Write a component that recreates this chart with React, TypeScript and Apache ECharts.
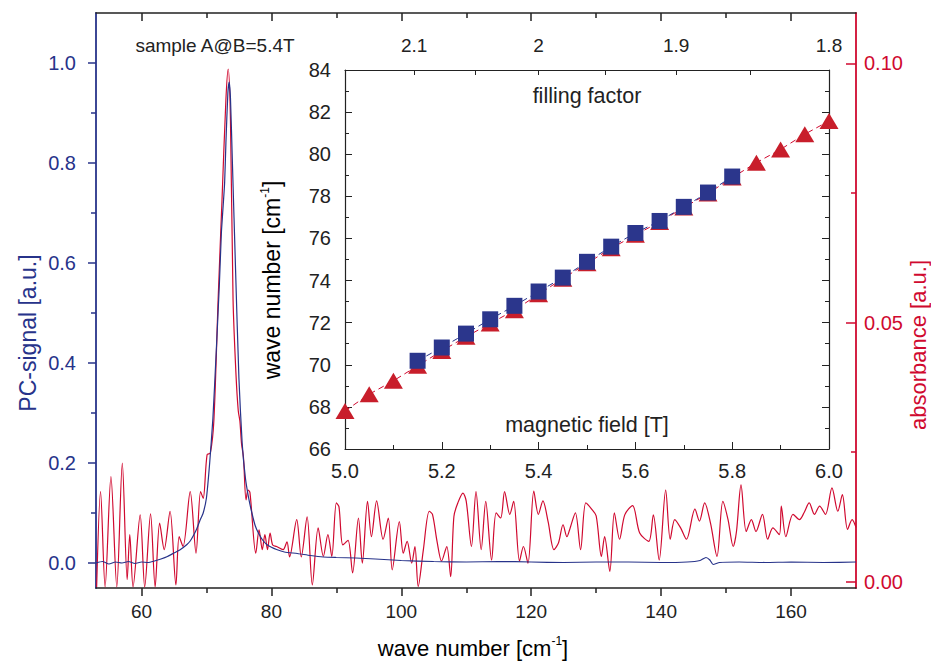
import React, { useEffect, useRef } from "react";
import * as echarts from "echarts";

// ---------- main spectrum data ----------
const absWave = [53.1,53.7,54.4,55.3,56.2,57.05,57.8,58.2,58.7,59.8,60.5,61.4,62.1,62.8,63.5,64.4,65.3,65.8,66.4,67.5,68.4,69.1,69.5,70.1,70.6,71.15,71.8,72.4,73.0,73.35,73.7,74.1,74.55,74.9,75.15,75.4,75.7,76.1,76.4,76.7,77.6,78.1,78.6,79.0,79.4,79.8,80.2,80.8,81.8,82.4,82.8,83.9,84.6,85.5,86.3,87.2,88.0,88.7,89.3,90.0,90.4,91.0,91.8,92.5,93.4,94.0,94.8,95.4,96.2,97.2,98.0,98.6,99.7,100.3,100.9,101.6,102.1,102.6,103.4,104.3,104.8,105.5,106.2,107.0,107.6,108.1,108.7,109.5,110.0,110.8,111.5,112.3,113.0,113.9,114.6,115.3,115.9,116.7,117.3,118.2,118.8,119.5,120.4,121.1,121.8,122.6,123.5,124.2,124.9,125.5,125.9,126.8,127.6,128.4,129.3,130.0,130.8,131.3,132.1,132.8,133.6,134.4,135.6,136.7,138.1,138.8,139.7,140.7,141.4,142.1,143.0,143.9,145.2,145.9,146.7,147.6,148.6,149.5,150.3,151.1,151.6,152.3,153.1,153.9,154.6,155.6,156.4,157.2,158.2,158.5,159.2,160.3,161.3,162.0,162.8,163.6,164.4,165.3,166.3,167.2,167.9,168.7,169.4,170.0];
const absValue = [-0.001,0.0174,-0.001,0.0203,-0.001,0.0229,0.0004,0.0091,-0.001,0.0129,-0.001,0.0131,-0.001,0.0113,0.0062,0.0136,-0.0006,0.0087,0.0068,0.0174,0.0055,0.0174,0.0161,0.0245,0.0248,0.0312,0.0544,0.0737,0.093,0.0989,0.089,0.0544,0.04,0.033,0.031,0.0267,0.024,0.0158,0.0177,0.0172,0.0055,0.01,0.0062,0.0091,0.0062,0.0094,0.0071,0.0068,0.0062,0.0077,0.0048,0.012,0.0048,0.0125,-0.0006,0.0104,0.0049,0.0091,0.0049,0.0152,0.0145,0.0071,0.008,0.0017,0.0123,0.0036,0.0155,0.0087,0.0156,0.0082,0.0123,0.0023,0.0116,0.0055,0.0078,0.0036,0.0068,-0.0009,0.0062,0.0136,0.013,0.0078,0.004,0.0068,0.001,0.0126,0.0152,0.0171,0.0155,0.0068,0.0174,0.0062,0.0155,0.0042,0.0133,0.0123,0.0174,0.013,0.0155,0.004,0.0068,0.0036,0.0175,0.013,0.0156,0.0116,0.0062,0.0075,0.011,0.0087,0.01,0.0133,0.0062,0.0152,0.014,0.0127,0.0049,0.0087,0.002,0.0133,0.0082,0.0129,0.0147,0.0094,0.0078,0.0129,0.0042,0.0177,0.0082,0.012,0.0104,0.0082,0.014,0.0117,0.0152,0.0113,0.0049,0.0155,0.012,0.0068,0.0097,0.0187,0.0097,0.012,0.0097,0.013,0.0082,0.0104,0.0091,0.0146,0.0087,0.013,0.012,0.0133,0.0152,0.013,0.0146,0.013,0.0181,0.0136,0.0168,0.0101,0.012,0.0105];

const pcWave = [53,54,55,56,57,58,59,60,61,62,63,64,65,66,67,67.5,68,68.5,69,69.5,70,70.5,71,71.5,72,72.3,72.5,72.8,73.0,73.3,73.5,73.7,74.0,74.5,75.0,75.5,76.0,76.5,77.0,77.5,78.0,78.7,79.5,80.8,82,84,86,88,90,93,96,100,105,110,115,120,125,130,135,140,144,146,146.9,147.5,148,149,152,156,160,165,170];
const pcValue = [0.0,0.003,-0.002,0.002,0.0,0.003,-0.001,0.002,0.001,0.004,0.008,0.013,0.02,0.027,0.037,0.044,0.055,0.068,0.085,0.1,0.13,0.2,0.29,0.42,0.56,0.66,0.7,0.76,0.84,0.94,0.962,0.93,0.8,0.58,0.37,0.24,0.17,0.13,0.1,0.075,0.06,0.045,0.035,0.027,0.022,0.019,0.015,0.012,0.011,0.01,0.008,0.005,0.003,0.002,0.003,0.002,0.001,0.002,0.002,0.001,0.002,0.005,0.011,0.006,-0.003,0.001,0.002,0.001,0.002,0.001,0.002];

const waveTicksMajor = [60, 80, 100, 120, 140, 160];
const waveTicksMinor = [70, 90, 110, 130, 150];
const pcTicksMajor = [0, 0.2, 0.4, 0.6, 0.8, 1.0];
const pcTicksMinor = [0.1, 0.3, 0.5, 0.7, 0.9];
const absTicksMajor = [0, 0.05, 0.1];
const absTicksMinor = [0.025, 0.075];

// ---------- inset data ----------
const fieldTri = [5.0,5.05,5.1,5.15,5.2,5.25,5.3,5.35,5.4,5.45,5.5,5.55,5.6,5.65,5.7,5.75,5.8,5.85,5.9,5.95,6.0];
const waveTri = [67.81,68.6,69.24,69.95,70.66,71.33,71.96,72.59,73.35,74.09,74.82,75.53,76.17,76.78,77.47,78.13,78.89,79.6,80.23,80.95,81.58];
const fieldSq = [5.15,5.2,5.25,5.3,5.35,5.4,5.45,5.5,5.55,5.6,5.65,5.7,5.75,5.8];
const waveSq = [70.19,70.82,71.48,72.16,72.8,73.48,74.14,74.89,75.61,76.26,76.83,77.5,78.18,78.94];
const fillingLabels = [2.1, 2.0, 1.9, 1.8];
const fillingTicks = [2.1, 2.05, 2.0, 1.95, 1.9, 1.85, 1.8];
const nuTimesB = 10.8;

const NAVY = "#27338a";
const RED = "#d0092f";
const FONT = "Liberation Sans, Arial, sans-serif";

export default function App() {
  const ref = useRef<HTMLDivElement>(null);
  useEffect(() => {
    if (!ref.current) return;
    const chart = echarts.init(ref.current, null, { renderer: "svg" });
    const noLine = { show: false };
    const base = (o: any) => ({
      type: "value",
      splitLine: { show: false },
      ...o,
      axisLine: { onZero: false, ...(o.axisLine || {}) },
    });
    const lblStyle = { fontFamily: FONT, fontSize: 19, color: "#222" };
    const rich = (size: number) => ({
      a: { fontFamily: FONT, fontSize: size, color: "#222", lineHeight: size + 4 },
      s: { fontFamily: FONT, fontSize: 12, color: "#222", verticalAlign: "top", lineHeight: size + 4 },
    });

    const option: any = {
      animation: false,
      backgroundColor: "#fff",
      grid: [
        { left: 96, top: 13, width: 760, height: 575 },
        { left: 345, top: 70, width: 484, height: 379 },
      ],
      xAxis: [
        base({
          gridIndex: 0, position: "bottom", min: 53, max: 170,
          axisLine: { lineStyle: { color: "#222", width: 1.5 } },
          axisTick: { customValues: waveTicksMajor, length: 8, lineStyle: { color: "#222", width: 1.5 } },
          axisLabel: { customValues: waveTicksMajor, margin: 14, ...lblStyle },
        }),
        base({
          gridIndex: 0, position: "bottom", min: 53, max: 170,
          axisLine: noLine,
          axisTick: { customValues: waveTicksMinor, length: 5, lineStyle: { color: "#222", width: 1.5 } },
          axisLabel: { show: false },
        }),
        base({
          gridIndex: 0, position: "top", min: 53, max: 170,
          axisLine: { lineStyle: { color: "#222", width: 1.5 } },
          axisTick: { customValues: waveTicksMajor, inside: true, length: 8, lineStyle: { color: "#222", width: 1.5 } },
          axisLabel: { show: false },
        }),
        base({
          gridIndex: 0, position: "top", min: 53, max: 170,
          axisLine: noLine,
          axisTick: { customValues: waveTicksMinor, inside: true, length: 5, lineStyle: { color: "#222", width: 1.5 } },
          axisLabel: { show: false },
        }),
        base({
          gridIndex: 1, position: "bottom", min: 5.0, max: 6.0, interval: 0.2,
          axisLine: { lineStyle: { color: "#222", width: 1.2 } },
          axisTick: { inside: true, length: 7, lineStyle: { color: "#222" } },
          minorTick: { show: true, splitNumber: 2, length: 4, lineStyle: { color: "#222" } },
          axisLabel: { margin: 12, formatter: (v: number) => v.toFixed(1), ...lblStyle, fontSize: 20 },
        }),
        base({
          gridIndex: 1, position: "top", min: 5.0, max: 6.0,
          axisLine: { lineStyle: { color: "#222", width: 1.2 } },
          axisTick: { inside: true, length: 5, customValues: fillingTicks.map((n) => nuTimesB / n), lineStyle: { color: "#222" } },
          axisLabel: {
            customValues: fillingLabels.map((n) => nuTimesB / n), margin: 15,
            formatter: (v: number) => String(Math.round((nuTimesB / v) * 10) / 10),
            ...lblStyle,
          },
        }),
      ],
      yAxis: [
        base({
          gridIndex: 0, position: "left", min: -0.05, max: 1.1,
          axisLine: { lineStyle: { color: NAVY, width: 1.8 } },
          axisTick: { customValues: pcTicksMajor, length: 8, lineStyle: { color: NAVY, width: 1.5 } },
          axisLabel: { customValues: pcTicksMajor, margin: 20, formatter: (v: number) => v.toFixed(1), fontFamily: FONT, fontSize: 20, color: NAVY },
        }),
        base({
          gridIndex: 0, position: "left", min: -0.05, max: 1.1,
          axisLine: noLine,
          axisTick: { customValues: pcTicksMinor, length: 5, lineStyle: { color: NAVY, width: 1.5 } },
          axisLabel: { show: false },
        }),
        base({
          gridIndex: 0, position: "right", min: -0.0012, max: 0.1097,
          axisLine: { lineStyle: { color: RED, width: 1.8 } },
          axisTick: { customValues: absTicksMajor, inside: true, length: 10, lineStyle: { color: RED, width: 1.5 } },
          axisLabel: { customValues: absTicksMajor, margin: 8, formatter: (v: number) => v.toFixed(2), fontFamily: FONT, fontSize: 20, color: RED },
        }),
        base({
          gridIndex: 0, position: "right", min: -0.0012, max: 0.1097,
          axisLine: noLine,
          axisTick: { customValues: absTicksMinor, inside: true, length: 5, lineStyle: { color: RED, width: 1.5 } },
          axisLabel: { show: false },
        }),
        base({
          gridIndex: 1, position: "left", min: 66, max: 84, interval: 2,
          axisLine: { lineStyle: { color: "#222", width: 1.2 } },
          axisTick: { inside: true, length: 7, lineStyle: { color: "#222" } },
          minorTick: { show: true, splitNumber: 2, length: 4, lineStyle: { color: "#222" } },
          axisLabel: { margin: 14, ...lblStyle, fontSize: 20 },
        }),
        base({
          gridIndex: 1, position: "right", min: 66, max: 84, interval: 2,
          axisLine: { lineStyle: { color: "#222", width: 1.2 } },
          axisTick: { inside: true, length: 7, lineStyle: { color: "#222" } },
          minorTick: { show: true, splitNumber: 2, length: 4, lineStyle: { color: "#222" } },
          axisLabel: { show: false },
        }),
      ],
      series: [
        {
          type: "line", xAxisIndex: 0, yAxisIndex: 2, showSymbol: false, smooth: 0.3,
          data: absWave.map((w, i) => [w, absValue[i]]),
          lineStyle: { color: RED, width: 1.2 }, clip: true,
        },
        {
          type: "line", xAxisIndex: 0, yAxisIndex: 0, showSymbol: false, smooth: 0.2,
          data: pcWave.map((w, i) => [w, pcValue[i]]),
          lineStyle: { color: NAVY, width: 1.2 }, clip: true,
        },
        {
          type: "line", xAxisIndex: 4, yAxisIndex: 4, symbol: "triangle", symbolSize: [19, 16],
          data: fieldTri.map((b, i) => [b, waveTri[i]]),
          lineStyle: { color: RED, width: 1, type: [6, 4] }, itemStyle: { color: "#c81e2b" },
        },
        {
          type: "line", xAxisIndex: 4, yAxisIndex: 4, symbol: "rect", symbolSize: 16,
          data: fieldSq.map((b, i) => [b, waveSq[i]]),
          lineStyle: { color: NAVY, width: 1, type: [6, 4] }, itemStyle: { color: "#2b368c" },
        },
      ],
      graphic: [
        { type: "text", x: 215, y: 45, style: { text: "sample A@B=5.4T", font: `19px ${FONT}`, fill: "#222", textAlign: "center", textVerticalAlign: "middle" } },
        { type: "text", x: 587, y: 96, style: { text: "filling factor", font: `21.5px ${FONT}`, fill: "#222", textAlign: "center", textVerticalAlign: "middle" } },
        { type: "text", x: 587, y: 425, style: { text: "magnetic field [T]", font: `21.5px ${FONT}`, fill: "#222", textAlign: "center", textVerticalAlign: "middle" } },
        { type: "text", x: 28, y: 333, rotation: Math.PI / 2, style: { text: "PC-signal [a.u.]", font: `23px ${FONT}`, fill: NAVY, textAlign: "center", textVerticalAlign: "middle" } },
        { type: "text", x: 918, y: 345, rotation: Math.PI / 2, style: { text: "absorbance [a.u.]", font: `22px ${FONT}`, fill: RED, textAlign: "center", textVerticalAlign: "middle" } },
        {
          type: "text", x: 473, y: 648,
          style: { text: "{a|wave number [cm}{s|-1}{a|]}", textAlign: "center", textVerticalAlign: "middle", rich: rich(22) },
        },
        {
          type: "text", x: 272, y: 280, rotation: Math.PI / 2,
          style: { text: "{a|wave number [cm}{s|-1}{a|]}", textAlign: "center", textVerticalAlign: "middle", rich: rich(23) },
        },
      ],
    };
    chart.setOption(option);
    return () => chart.dispose();
  }, []);
  return <div ref={ref} style={{ width: 931, height: 661, position: "absolute", left: 0, top: 0 }} />;
}
